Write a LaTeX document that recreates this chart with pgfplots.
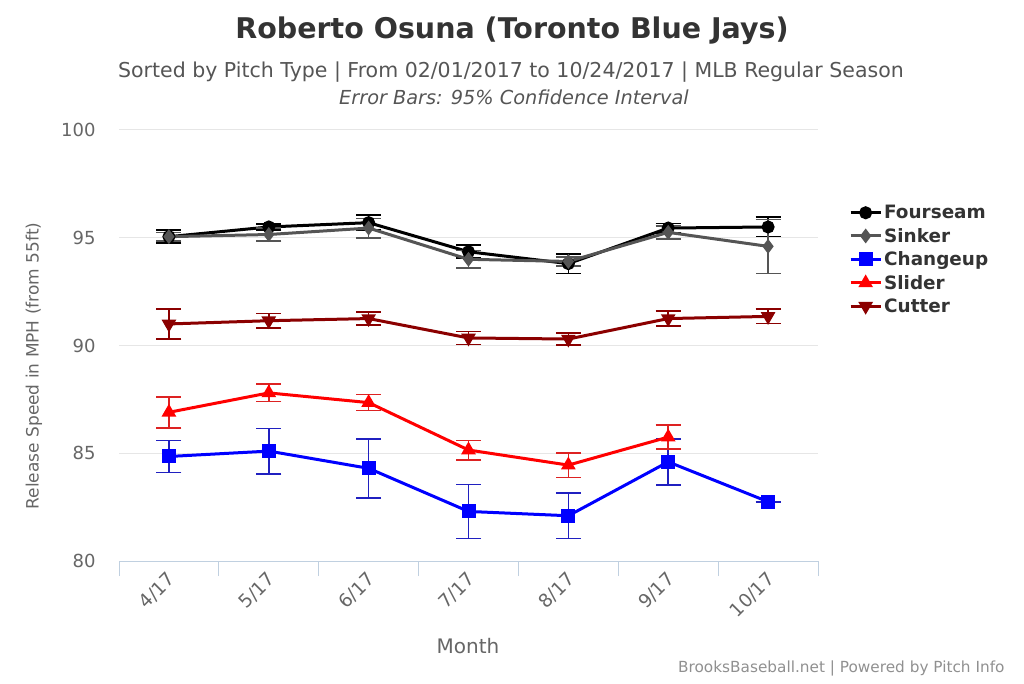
\documentclass[border=0pt]{standalone}
\usepackage{pgfplots}
\usepackage{pgfplotstable}
\pgfplotsset{compat=1.18}
\usepackage{fontspec}
\setmainfont{DejaVu Sans}
\definecolor{titlec}{HTML}{333333}
\definecolor{subc}{HTML}{555555}
\definecolor{labc}{HTML}{666666}
\definecolor{gridc}{HTML}{E6E6E6}
\definecolor{axc}{HTML}{C0D0E0}
\definecolor{sinkc}{HTML}{555555}
\definecolor{chgc}{HTML}{0000FF}
\definecolor{chgerr}{HTML}{2020C0}
\definecolor{slc}{HTML}{FF0000}
\definecolor{slerr}{HTML}{DD2222}
\definecolor{cutc}{HTML}{8B0000}
\definecolor{credc}{HTML}{909090}

\pgfplotstableread{
x y e
0 95.05 0.30
1 95.50 0.15
2 95.70 0.35
3 94.35 0.30
4 93.80 0.45
5 95.45 0.22
6 95.50 0.45
}\fourseam
\pgfplotstableread{
x y e
0 95.05 0.20
1 95.15 0.30
2 95.45 0.45
3 94.00 0.40
4 93.90 0.20
5 95.25 0.30
6 94.60 1.25
}\sinker
\pgfplotstableread{
x y e
0 84.85 0.74
1 85.10 1.05
2 84.30 1.37
3 82.30 1.25
4 82.10 1.05
5 84.60 1.07
6 82.75 0.02
}\changeup
\pgfplotstableread{
x y e
0 86.90 0.72
1 87.80 0.40
2 87.35 0.37
3 85.15 0.45
4 84.45 0.57
5 85.75 0.55
}\slider
\pgfplotstableread{
x y e
0 91.00 0.70
1 91.15 0.33
2 91.25 0.30
3 90.35 0.30
4 90.30 0.28
5 91.25 0.35
6 91.35 0.33
}\cutter

\begin{document}
\begin{tikzpicture}[x=1pt,y=1pt]
\path[use as bounding box] (0,0) rectangle (1024,683);
\begin{axis}[
  at={(119pt,122pt)}, anchor=south west,
  scale only axis, width=699pt, height=431pt,
  xmin=-0.5, xmax=6.5, ymin=80, ymax=100,
  ytick={80,85,...,100},
  xtick={0,...,6},
  xticklabels={4/17,5/17,6/17,7/17,8/17,9/17,10/17},
  minor xtick={-0.5,0.5,...,6.5},
  major x tick style={draw=none},
  minor x tick style={draw=axc, line width=1pt},
  minor tick length=15pt,
  xtick pos=bottom, xtick align=outside,
  ytick style={draw=none},
  ymajorgrids, grid style={gridc, line width=1pt},
  axis line style={draw=none},
  axis x line*=bottom,
  x axis line style={draw=axc, line width=1pt},
  /pgf/number format/assume math mode=true,
  yticklabel style={font=\fontsize{18}{18}\selectfont, text=labc, anchor=east, xshift=-20pt},
  xticklabel style={font=\fontsize{18.5}{18.5}\selectfont, text=labc, rotate=45, anchor=east, yshift=-10pt, xshift=-2pt},
  clip=false,
  legend style={at={(1.04,0.835)}, anchor=north west, draw=none, fill=none,
    font=\bfseries\fontsize{18.4}{18.4}\selectfont, text=titlec, row sep=4pt,
    legend cell align=left},
  legend image code/.code={\draw[mark repeat=2,mark phase=2,#1] plot coordinates {(0pt,0pt) (15pt,0pt) (30pt,0pt)};},
]
\addplot[black, line width=3pt, mark=*, mark size=5pt, mark options={solid},
  error bars/.cd, y dir=both, y explicit, error bar style={black, line width=1.6pt}, error mark options={rotate=90, black, mark size=12.5pt, line width=1.6pt}]
  table[x=x, y=y, y error=e] {\fourseam};
\addlegendentry{Fourseam}
\addplot[sinkc, line width=3pt, mark=diamond*, mark size=5pt,
  error bars/.cd, y dir=both, y explicit, error bar style={sinkc, line width=1.6pt}, error mark options={rotate=90, sinkc, mark size=12.5pt, line width=1.6pt}]
  table[x=x, y=y, y error=e] {\sinker};
\addlegendentry{Sinker}
\addplot[chgc, line width=3pt, mark=square*, mark size=5.5pt,
  error bars/.cd, y dir=both, y explicit, error bar style={chgerr, line width=1.6pt}, error mark options={rotate=90, chgerr, mark size=12.5pt, line width=1.6pt}]
  table[x=x, y=y, y error=e] {\changeup};
\addlegendentry{Changeup}
\addplot[slc, line width=3pt, mark=triangle*, mark size=5.5pt,
  error bars/.cd, y dir=both, y explicit, error bar style={slerr, line width=1.6pt}, error mark options={rotate=90, slerr, mark size=12.5pt, line width=1.6pt}]
  table[x=x, y=y, y error=e] {\slider};
\addlegendentry{Slider}
\addplot[cutc, line width=3pt, mark=triangle*, mark size=5.5pt, mark options={rotate=180},
  error bars/.cd, y dir=both, y explicit, error bar style={cutc, line width=1.6pt}, error mark options={rotate=90, cutc, mark size=12.5pt, line width=1.6pt}]
  table[x=x, y=y, y error=e] {\cutter};
\addlegendentry{Cutter}
\end{axis}
\node[text=titlec, font=\bfseries\fontsize{28.5}{28.5}\selectfont] at (512,652) {Roberto Osuna (Toronto Blue Jays)};
\node[text=subc, font=\fontsize{20.5}{20.5}\selectfont] at (511,611) {Sorted by Pitch Type | From 02/01/2017 to 10/24/2017 | MLB Regular Season};
\node[text=subc, font=\itshape\fontsize{19.3}{19.3}\selectfont] at (514,586) {Error Bars: 95\% Confidence Interval};
\node[text=labc, font=\fontsize{20}{20}\selectfont] at (468,37) {Month};
\node[text=labc, font=\fontsize{17}{17}\selectfont, rotate=90] at (34,317) {Release Speed in MPH (from 55ft)};
\node[text=credc, font=\fontsize{15.3}{15.3}\selectfont, anchor=east] at (1008,15) {BrooksBaseball.net | Powered by Pitch Info};
\end{tikzpicture}
\end{document}
